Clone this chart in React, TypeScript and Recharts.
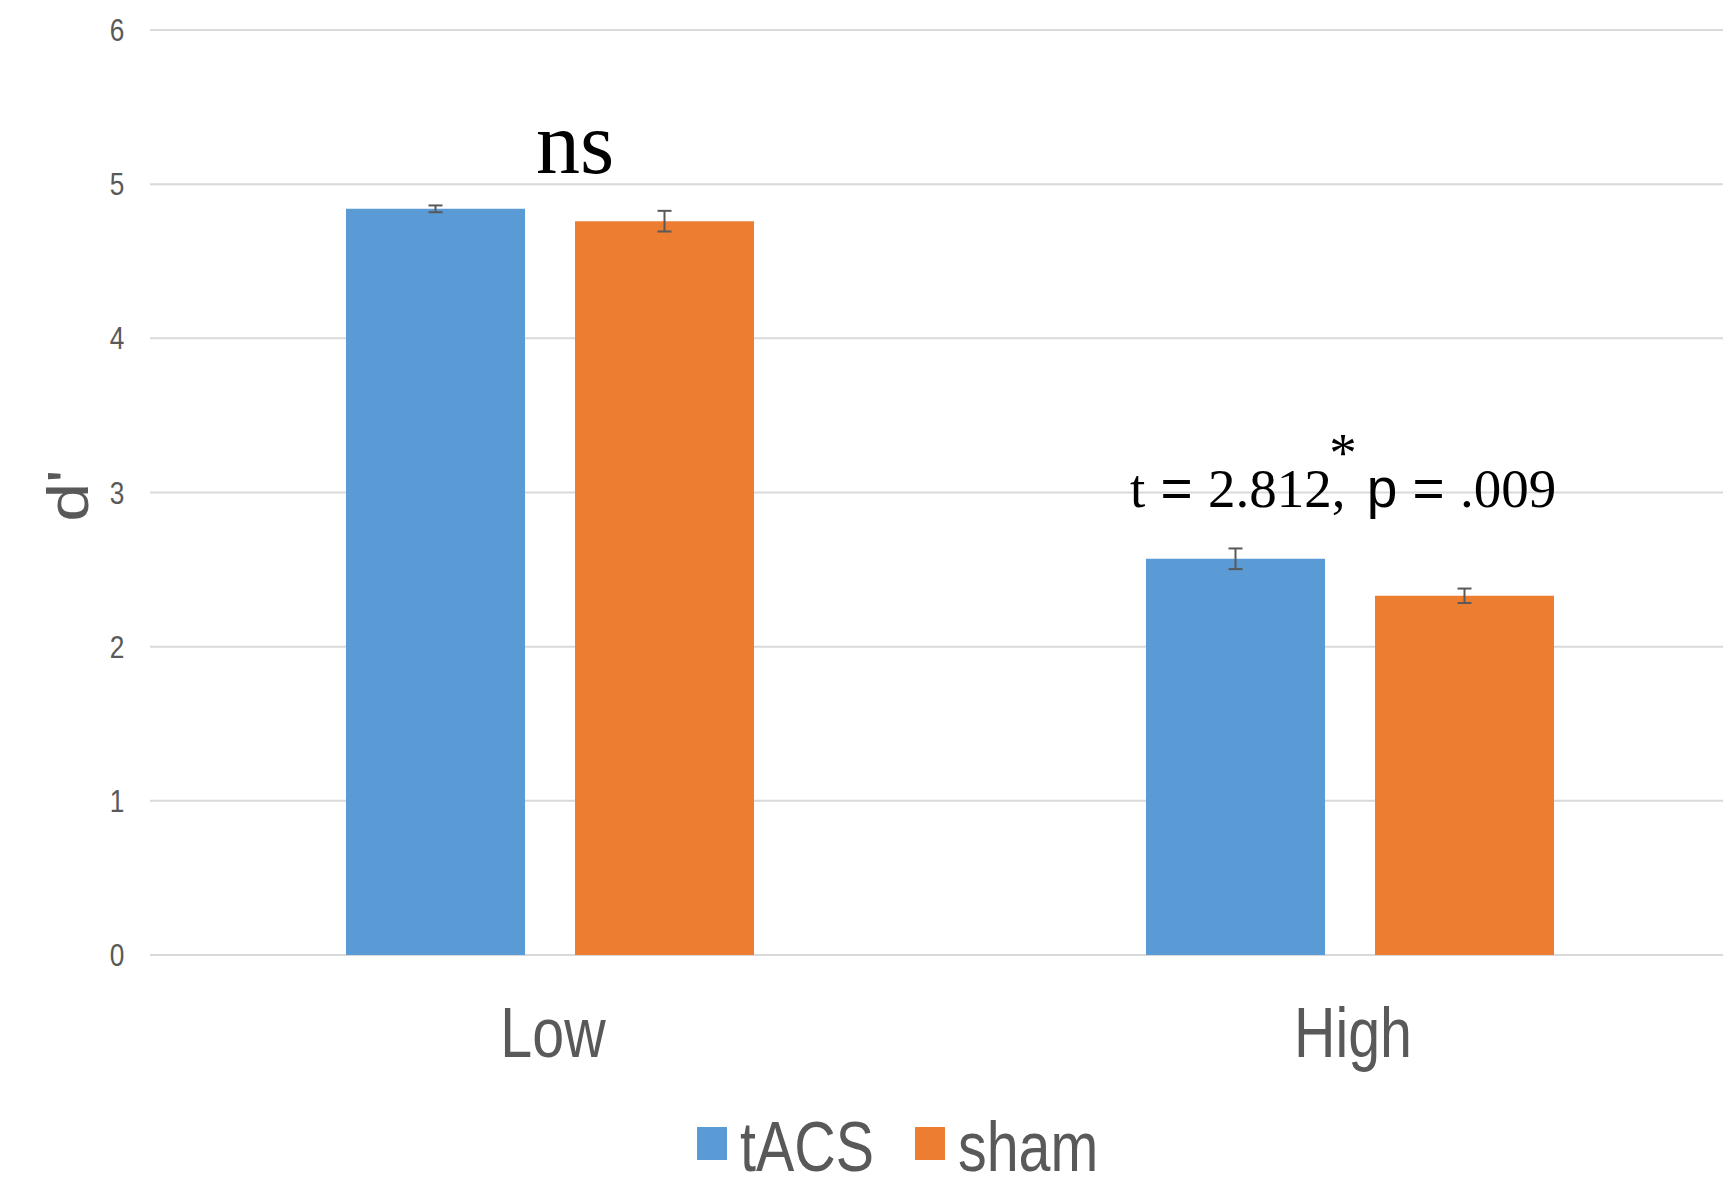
import React from 'react';
import { BarChart, Bar, XAxis, YAxis, CartesianGrid, ErrorBar, Legend, ReferenceDot } from 'recharts';

const categories = ['Low', 'High'];
const seriesNames = ['tACS', 'sham'];
const tacsMeans = [4.84, 2.57];
const tacsErrors = [0.022, 0.067];
const shamMeans = [4.76, 2.33];
const shamErrors = [0.067, 0.047];
const yTicks = [0, 1, 2, 3, 4, 5, 6];

const data = categories.map((c, i) => ({
  name: c,
  tACS: tacsMeans[i],
  tacsErr: tacsErrors[i],
  sham: shamMeans[i],
  shamErr: shamErrors[i],
}));

const GRAY = '#595959';
const SANS = "'Liberation Sans', Arial, sans-serif";
const SERIF = "'Liberation Serif', 'Times New Roman', serif";
// the original picture is squeezed sideways, so the gray labels are narrow
const NARROW = 0.82;

const YTick = ({ x, y, payload }: any) => (
  <g transform={`translate(${x - 33},${y + 11})`}>
    <text transform={`scale(${NARROW},1)`} textAnchor="middle" fontSize={32} fontFamily={SANS} fill={GRAY}>
      {payload.value}
    </text>
  </g>
);

const XTick = ({ x, y, payload }: any) => (
  <g transform={`translate(${x + 3},${y + 102})`}>
    <text transform={`scale(${NARROW},1)`} textAnchor="middle" fontSize={70} fontFamily={SANS} fill={GRAY}>
      {payload.value}
    </text>
  </g>
);

const renderYLabel = (props: any) => {
  const vb = props.viewBox;
  const cx = vb.x + 80;
  const cy = vb.y + vb.height / 2 + 3;
  return (
    <g transform={`translate(${cx},${cy}) rotate(-90) scale(1,${NARROW})`}>
      <text textAnchor="middle" fontSize={70} fontFamily={SANS} fill={GRAY}>d'</text>
    </g>
  );
};

const renderNs = ({ viewBox }: any) => (
  <text x={viewBox.x + 25} y={viewBox.y} textAnchor="middle" fontSize={88} fontFamily={SERIF} fill="#000">
    ns
  </text>
);

const renderStat = ({ viewBox }: any) => (
  <g>
    <text x={viewBox.x - 220} y={viewBox.y} fontSize={55} fontFamily={SERIF} fill="#000" style={{ whiteSpace: 'pre' }}>
      <tspan>t</tspan>
      <tspan fontFamily={SANS}>{' = '}</tspan>
      <tspan>2.812,</tspan>
      <tspan fontFamily={SANS} dx={6}>{' p = '}</tspan>
      <tspan>.009</tspan>
    </text>
    <text x={viewBox.x - 7} y={viewBox.y - 36} textAnchor="middle" fontSize={55} fontFamily={SERIF} fill="#000">
      *
    </text>
  </g>
);

const renderLegend = ({ payload }: any) => {
  const items = [...(payload || [])].sort(
    (a: any, b: any) => seriesNames.indexOf(a.value) - seriesNames.indexOf(b.value)
  );
  return (
    <svg width={420} height={66} style={{ overflow: 'visible' }}>
      {items.map((p: any, i: number) => (
        <g key={p.value} transform={`translate(${i * 218},0)`}>
          <rect x={0} y={6} width={30} height={33} fill={p.color} />
          <g transform="translate(43,50)">
            <text transform={`scale(${NARROW},1)`} fontSize={70} fontFamily={SANS} fill={GRAY}>
              {p.value}
            </text>
          </g>
        </g>
      ))}
    </svg>
  );
};

const App = () => {
  return (
    <div style={{ position: 'absolute', left: 8, top: 8, width: 1715, height: 1172, overflow: 'hidden', background: '#fff' }}>
      <BarChart width={1760} height={1172} data={data} margin={{ top: 22, right: 18, left: 0, bottom: 0 }} barGap={50}>
        <CartesianGrid vertical={false} stroke="#d9d9d9" strokeWidth={2} />
        <XAxis
          dataKey="name"
          height={225}
          axisLine={false}
          tickLine={false}
          tickSize={0}
          tickMargin={0}
          interval={0}
          tick={(p: any) => <XTick {...p} />}
        />
        <YAxis
          width={142}
          domain={[0, 6]}
          ticks={yTicks}
          axisLine={false}
          tickLine={false}
          tickSize={0}
          tickMargin={0}
          tick={(p: any) => <YTick {...p} />}
          label={{ content: renderYLabel }}
        />
        <Legend verticalAlign="middle" align="center" wrapperStyle={{ top: 1113, left: 689, width: 420, height: 66 }} content={renderLegend} />
        <Bar dataKey="tACS" name="tACS" fill="#5B9BD5" barSize={179} isAnimationActive={false}>
          <ErrorBar dataKey="tacsErr" width={7} stroke={GRAY} strokeWidth={2} isAnimationActive={false} />
        </Bar>
        <Bar dataKey="sham" name="sham" fill="#ED7D31" barSize={179} isAnimationActive={false}>
          <ErrorBar dataKey="shamErr" width={7} stroke={GRAY} strokeWidth={2} isAnimationActive={false} />
        </Bar>
        <ReferenceDot x="Low" y={5.07} r={0} fill="none" stroke="none" label={renderNs} />
        <ReferenceDot x="High" y={2.905} r={0} fill="none" stroke="none" label={renderStat} />
      </BarChart>
    </div>
  );
};

export default App;
